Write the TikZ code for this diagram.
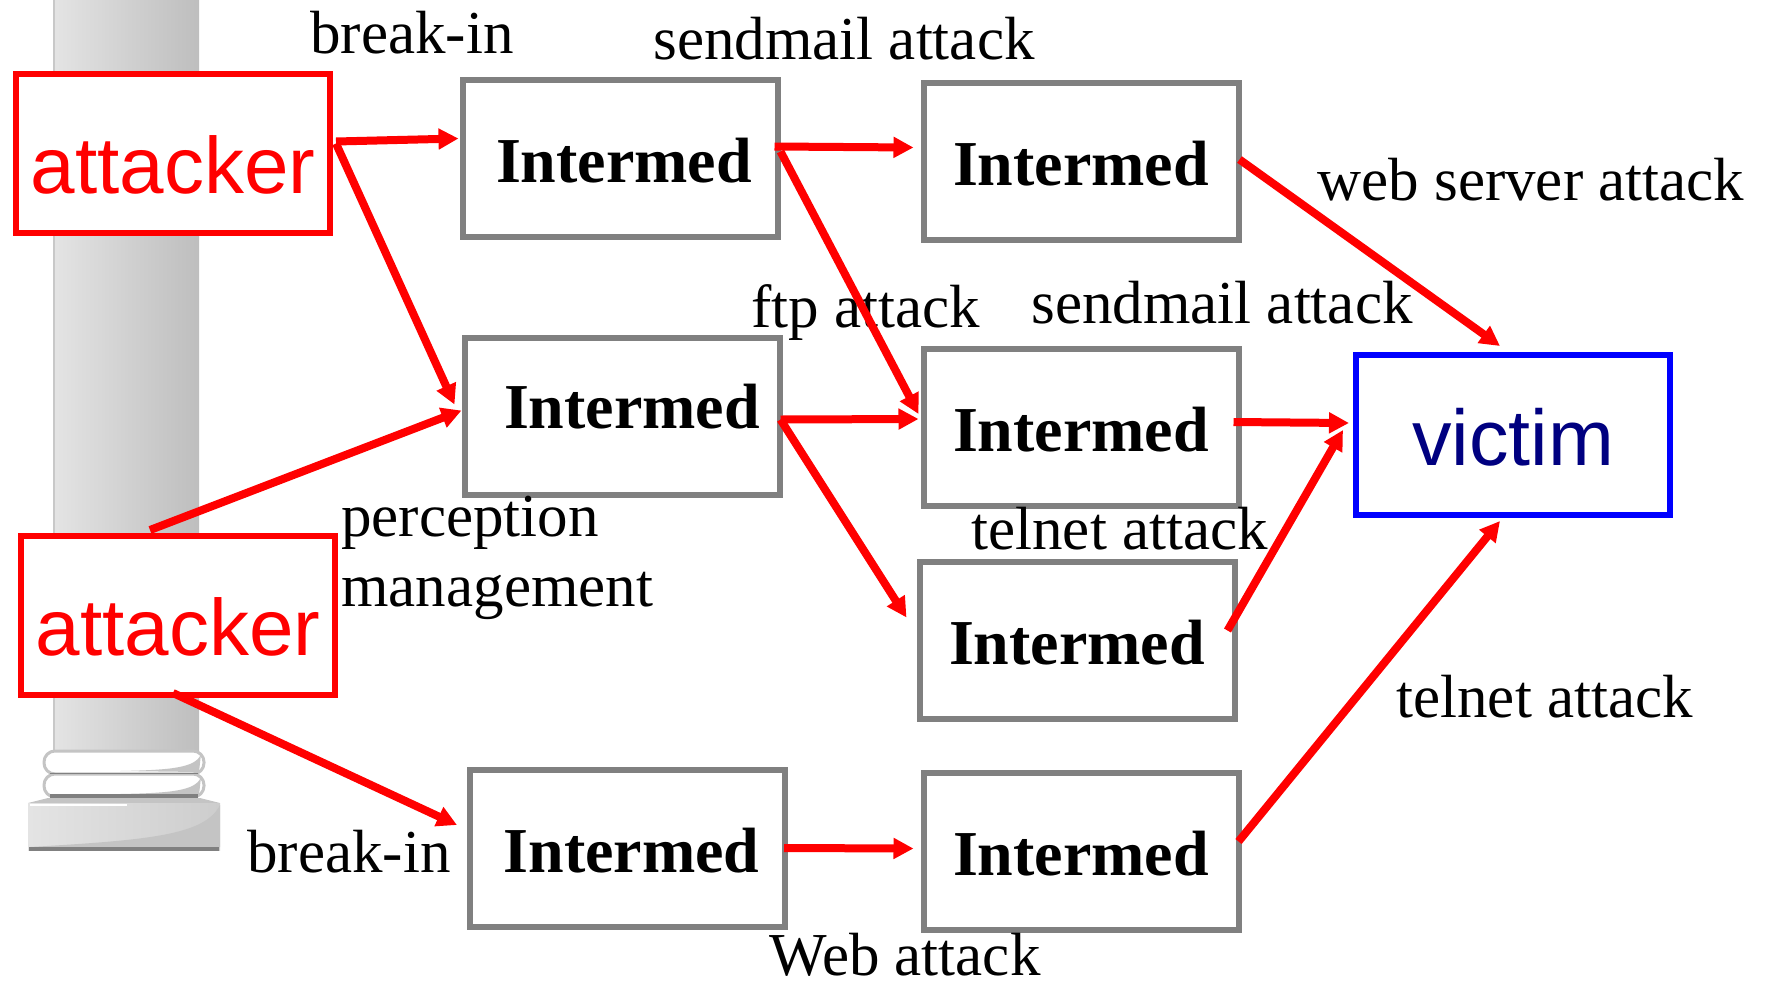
\documentclass[tikz,border=0pt]{standalone}
\usepackage{fontspec}
\setmainfont{Liberation Serif}
\newfontfamily\arialfont{Liberation Sans}
\usetikzlibrary{arrows.meta,calc}

\definecolor{pilL}{RGB}{228,228,228}
\definecolor{pilR}{RGB}{190,190,190}
\definecolor{pilEdge}{RGB}{200,200,200}
\definecolor{plinthR}{RGB}{205,205,205}
\definecolor{plinthShade}{RGB}{196,196,196}
\definecolor{ringLine}{RGB}{196,196,196}
\definecolor{ringDark}{RGB}{128,128,128}
\definecolor{boxGray}{RGB}{128,128,128}
\definecolor{navyText}{RGB}{0,0,128}

\tikzset{
  atk/.style={draw=red, line width=3pt, fill=white, inner sep=0pt,
    minimum width=157pt, minimum height=79.5pt, text=red,
    font=\arialfont\fontsize{40pt}{48pt}\selectfont,
    text height=39.5pt, text depth=0pt},
  vic/.style={draw=blue, line width=3pt, fill=white, inner sep=0pt,
    minimum width=157pt, minimum height=80pt, text=navyText,
    font=\arialfont\fontsize{39.5pt}{48pt}\selectfont,
    text height=30pt, text depth=0pt},
  hop/.style={draw=boxGray, line width=3pt, fill=white, inner sep=0pt,
    minimum width=157.5pt, minimum height=78.5pt,
    font=\bfseries\fontsize{32pt}{38pt}\selectfont,
    text height=24pt, text depth=0pt},
  lbl/.style={anchor=base west, inner sep=0pt,
    font=\fontsize{30.5pt}{36pt}\selectfont},
  arr/.style={draw=red, line width=4pt,
    -{Triangle[length=10pt,width=10pt]}},
}

\begin{document}
\begin{tikzpicture}[x=0.5pt,y=-0.5pt]
\useasboundingbox (0,0) rectangle (1765,980);

% column in the background
\shade[left color=pilL, right color=pilR] (53,0) rectangle (199,752);
\draw[pilEdge, line width=1pt] (53.5,0) -- (53.5,752);
% two rings of the column base
\filldraw[fill=white, draw=ringLine, line width=1.5pt, rounded corners=5.5pt]
  (44,751) rectangle (204,774);
\fill[ringLine] (201,754) .. controls (196,768) and (170,770) .. (120,771) -- (199,772) -- cycle;
\filldraw[fill=white, draw=ringLine, line width=1.5pt, rounded corners=5.5pt]
  (44,774) rectangle (204,797);
\fill[ringLine] (201,777) .. controls (196,791) and (170,793) .. (120,794) -- (199,795) -- cycle;
\draw[ringDark, line width=0.8pt] (50,773.5) -- (198,773.5);
\draw[ringDark, line width=2pt] (50,796) -- (198,796);
% plinth
\fill[ringLine] (48,798) -- (200,798) -- (220,803) -- (28,803) -- cycle;
\shade[left color=pilL, right color=plinthR] (28,803) rectangle (220,850);
\fill[plinthShade] (220,805) .. controls (205,835) and (150,840) .. (30,847) -- (220,847) -- cycle;
\draw[white, line width=1pt] (30,805) -- (127,805);
\draw[ringDark, line width=2pt] (29,849) -- (219,849);

% hosts
\node[atk] (a1) at (173,153.5) {attacker};
\node[atk] (a2) at (178,615.5) {attacker};
\node[vic] (v) at (1513,435) {victim};
\node[hop] (m1) at (620,158.5) {\hspace*{4pt}Intermed};
\node[hop, text depth=12.5pt] (m2) at (622,416.5) {\hspace*{10pt}Intermed};
\node[hop] (m3) at (1081,161.5) {Intermed};
\node[hop] (m4) at (1081,427) {Intermed};
\node[hop] (m5) at (1077,640.5) {Intermed};
\node[hop] (m6) at (627.5,848) {\hspace*{4pt}Intermed};
\node[hop] (m7) at (1081,851.5) {Intermed};

% attack labels
\node[lbl] (t1) at (310,53) {break-in};
\node[lbl] (t2) at (653,59) {sendmail attack};
\node[lbl] (t3) at (1317,200) {web server attack};
\node[lbl] (t4) at (751,327) {ftp attack};
\node[lbl] (t5) at (1031,323) {sendmail attack};
\node[lbl] (t6) at (341,536) {perception};
\node[lbl] (t7) at (341,606) {management};
\node[lbl] (t8) at (971,549) {telnet attack};
\node[lbl] (t9) at (1396,717) {telnet attack};
\node[lbl] (t10) at (247,872) {break-in};
\node[lbl] (t11) at (769,975) {Web attack};

% attack paths
\draw[arr] ($(a1.east)+(3,-12)$) -- ($(m1.west)+(-1,-20)$);
\draw[arr] ($(a1.east)+(3,-10)$) -- ($(m2.west)+(-7,-12)$);
\draw[arr] ($(a2.north)+(-28,-3)$) -- ($(m2.west)+(0,-6)$);
\draw[arr] ($(a2.south)+(-5,-5)$) -- ($(m6.west)+(-10,-23)$);
\draw[arr] ($(m1.east)+(-6,-12)$) -- ($(m3.west)+(-7,-14)$);
\draw[arr] ($(m1.east)+(0,-7)$) -- ($(m4.west)+(-2,-13)$);
\draw[arr] ($(m2.east)+(-2,3)$) -- ($(m4.west)+(-2,-8)$);
\draw[arr] ($(m2.east)+(-2,3)$) -- ($(m5.west)+(-10,-23)$);
\draw[arr] ($(m3.east)+(-2,-2)$) -- ($(v.north)+(-13,-6)$);
\draw[arr] ($(m4.east)+(-8,-5)$) -- ($(v.west)+(-4,-12)$);
\draw[arr] ($(m5.east)+(-10,-10)$) -- ($(v.west)+(-10,-5)$);
\draw[arr] ($(m6.east)+(-4,0)$) -- ($(m7.west)+(-7,-3)$);
\draw[arr] ($(m7.east)+(-3,-10)$) -- ($(v.south)+(-13,3)$);
\end{tikzpicture}
\end{document}
